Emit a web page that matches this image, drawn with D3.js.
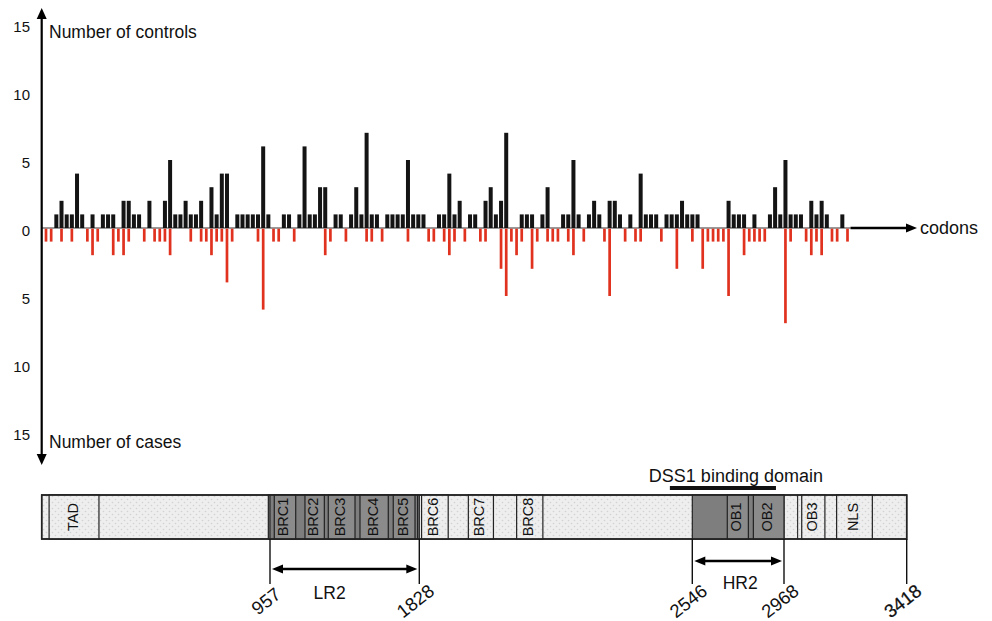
<!DOCTYPE html>
<html><head><meta charset="utf-8">
<script src="https://cdn.jsdelivr.net/npm/d3@7"></script>
<style>body{margin:0;background:#fff;} svg{display:block;font-family:"Liberation Sans",Arial,Helvetica,sans-serif;}</style>
</head><body><svg id="c" width="992" height="621"></svg>
<script>
// ---- data ----
const controlBins = [2,3,4,5,6,7,9,11,12,13,15,16,17,18,20,23,24,25,26,27,28,29,30,32,33,34,35,37,38,39,40,41,42,43,46,47,49,50,51,52,53,54,56,57,59,60,61,62,63,64,66,67,68,69,70,71,72,73,76,77,78,79,80,82,83,85,86,87,88,89,92,93,94,96,97,100,101,102,103,105,106,107,109,110,111,113,115,116,117,118,120,121,122,123,124,125,126,132,133,134,135,137,140,141,142,143,144,145,146,148,149,150,151,154];
const controlCounts = [1,2,1,1,4,1,1,1,1,1, 2,2,1,1,2,2,5,1,1,2, 1,1,2,3,1,4,4,1,1,1, 1,1,6,1,1,1,1,6,1,1, 3,3,1,1,1,3,1,7,1,1, 1,1,1,1,5,1,1,1,1,1, 4,1,2,1,1,2,3,1,2,7, 1,1,1,1,3,1,1,5,1,1, 2,1,2,2,1,1,4,1,1,1, 1,1,1,2,1,1,1,2,1,1, 1,1,1,3,1,5,1,1,1,2, 1,2,1,1];
const caseBins = [0,1,3,5,8,9,10,13,14,15,16,19,21,22,23,24,28,30,31,32,33,34,35,36,41,42,44,45,48,54,55,58,62,63,65,70,74,75,77,78,79,81,84,85,88,89,90,91,92,94,95,97,98,99,101,102,104,108,109,112,114,115,119,122,125,127,128,129,130,131,132,135,136,137,138,139,143,144,147,148,149,150,152,153,155];
const caseCounts = [1,1,1,1,1,2,1,2,1,2, 1,1,1,1,1,2,1,1,1,2, 1,1,4,1,1,6,1,1,1,2, 1,1,1,1,1,1,1,1,1,2, 1,1,1,1,3,5,1,2,1,3, 1,1,1,1,1,2,1,1,5,1, 1,1,1,3,1,3,1,1,1,1, 5,2,1,1,1,1,7,1,1,2, 1,2,1,1,1];
const yTicksUp = [0,5,10,15];
const yTicksDown = [5,10,15];
const axisLabels = ["Number of controls","Number of cases","codons"];

const codonMarks = [957,1828,2546,2968,3418];
const domainNames  = ["TAD","BRC1","BRC2","BRC3","BRC4","BRC5","BRC6","BRC7","BRC8","OB1","OB2","OB3","NLS"];
const domainStarts = [31,982,1161,1297,1482,1676,1834,1957,2084,2707,2827,3033,3161];
const domainEnds   = [240,1107,1274,1453,1647,1803,1904,2023,2153,2804,2968,3118,3292];
const darkRegionStarts = [950,2546];
const darkRegionEnds = [1828,2968];
const separatorCodons = [957,1818,3018];
const regionNames = ["LR2","HR2"];
const regionStarts = [957,2546];
const regionEnds = [1828,2968];
const dss1Name = "DSS1 binding domain";
const dss1Range = [2487,2931];

// ---- drawing ----
const svg = d3.select("#c");
const FONT = '"Liberation Sans",Arial,Helvetica,sans-serif';
const defs = svg.append("defs");
const pat = defs.append("pattern").attr("id","dots").attr("width",6).attr("height",6).attr("patternUnits","userSpaceOnUse");
pat.append("rect").attr("width",6).attr("height",6).attr("fill","#eeeeee");
pat.append("circle").attr("cx",1.5).attr("cy",1.5).attr("r",0.8).attr("fill","#d2d2d2");
pat.append("circle").attr("cx",4.5).attr("cy",4.5).attr("r",0.8).attr("fill","#d2d2d2");

const axisX = 41.7, zeroY = 228, unit = 13.6;
const yUp = d3.scaleLinear().domain([0,15]).range([zeroY, zeroY - unit*15]);
const yDown = d3.scaleLinear().domain([0,15]).range([zeroY, zeroY + unit*15]);
const xBin = d3.scaleLinear().domain([0,155]).range([46,847.5]);

// baseline
svg.append("line").attr("x1",axisX).attr("x2",xBin(155)+3).attr("y1",zeroY).attr("y2",zeroY)
  .attr("stroke","#777").attr("stroke-width",1.4);
svg.append("line").attr("x1",xBin(155)+3).attr("x2",908).attr("y1",zeroY).attr("y2",zeroY)
  .attr("stroke","#000").attr("stroke-width",2.4);
svg.append("path").attr("d",`M906,${zeroY-4.5}L917,${zeroY}L906,${zeroY+4.5}Z`).attr("fill","#000");

// bars
const ctrl = d3.zip(controlBins, controlCounts);
const cases = d3.zip(caseBins, caseCounts);
svg.append("g").selectAll("rect").data(ctrl).join("rect")
  .attr("x", d=>xBin(d[0])-2).attr("width",4)
  .attr("y", d=>yUp(d[1])).attr("height", d=>zeroY - yUp(d[1]))
  .attr("fill","#141414");
svg.append("g").selectAll("rect").data(cases).join("rect")
  .attr("x", d=>xBin(d[0])-1.35).attr("width",2.7)
  .attr("y", zeroY+0.7).attr("height", d=>yDown(d[1]) - zeroY - 0.7)
  .attr("fill","#e0321f");

// vertical axis with arrows
svg.append("line").attr("x1",axisX).attr("x2",axisX).attr("y1",16).attr("y2",458)
  .attr("stroke","#000").attr("stroke-width",2.2);
svg.append("path").attr("d",`M${axisX-5},19L${axisX},8L${axisX+5},19Z`).attr("fill","#000");
svg.append("path").attr("d",`M${axisX-5},454L${axisX},465L${axisX+5},454Z`).attr("fill","#000");

// tick labels
function styleAxis(g){
  g.select(".domain").remove();
  g.selectAll("text").attr("font-family",FONT).attr("font-size",15).attr("fill","#111");
}
svg.append("g").attr("transform","translate(30,2.5)")
  .call(d3.axisLeft(yUp).tickValues(yTicksUp).tickSize(0).tickPadding(0).tickFormat(d3.format("d")))
  .call(styleAxis);
svg.append("g").attr("transform","translate(30,2.5)")
  .call(d3.axisLeft(yDown).tickValues(yTicksDown).tickSize(0).tickPadding(0).tickFormat(d3.format("d")))
  .call(styleAxis);

const txt = (s,x,y,size,anchor)=>svg.append("text").text(s).attr("x",x).attr("y",y)
  .attr("font-size",size).attr("font-family",FONT).attr("fill","#111")
  .attr("dominant-baseline","central").attr("text-anchor",anchor||"start");
txt(axisLabels[0], 49, 32, 17.5);
txt(axisLabels[1], 49, 442, 17.5);
txt(axisLabels[2], 920, 228, 18);

// ---- protein domain diagram ----
const xDom = d3.scaleLinear().domain([0].concat(codonMarks)).range([41.7,270,419.3,692.3,784,906.7]);
const barTop = 495, barBot = 539, barMid = (barTop+barBot)/2;
const dg = svg.append("g");
dg.append("rect").attr("x",xDom(0)).attr("y",barTop).attr("width",xDom(3418)-xDom(0)).attr("height",barBot-barTop)
  .attr("fill","url(#dots)").attr("stroke","#222").attr("stroke-width",1.5);
dg.selectAll("rect.dark").data(d3.zip(darkRegionStarts,darkRegionEnds)).join("rect").attr("class","dark")
  .attr("x",d=>xDom(d[0])).attr("width",d=>xDom(d[1])-xDom(d[0]))
  .attr("y",barTop).attr("height",barBot-barTop).attr("fill","#7e7e7e").attr("stroke","#222").attr("stroke-width",1.2);
dg.selectAll("line.sep").data(separatorCodons).join("line").attr("class","sep")
  .attr("x1",d=>xDom(d)).attr("x2",d=>xDom(d)).attr("y1",barTop).attr("y2",barBot)
  .attr("stroke","#222").attr("stroke-width",1.1);
const doms = domainNames.map((n,i)=>({n, s:domainStarts[i], e:domainEnds[i]}));
const inDark = d => darkRegionStarts.some((s,i)=>d.s>=s && d.e<=darkRegionEnds[i]);
dg.selectAll("rect.dom").data(doms).join("rect").attr("class","dom")
  .attr("x",d=>xDom(d.s)).attr("width",d=>xDom(d.e)-xDom(d.s))
  .attr("y",barTop).attr("height",barBot-barTop)
  .attr("fill",d=>inDark(d)?"#8b8b8b":"url(#dots)").attr("stroke","#222").attr("stroke-width",1.2);
dg.selectAll("text.dom").data(doms).join("text").attr("class","dom")
  .attr("transform",d=>`translate(${(xDom(d.s)+xDom(d.e))/2-1.5},${barMid}) rotate(-90)`)
  .attr("text-anchor","middle").attr("dominant-baseline","central")
  .attr("font-size",14.5).attr("font-family",FONT).attr("fill","#111").text(d=>d.n);
// outer border again on top
dg.append("rect").attr("x",xDom(0)).attr("y",barTop).attr("width",xDom(3418)-xDom(0)).attr("height",barBot-barTop)
  .attr("fill","none").attr("stroke","#222").attr("stroke-width",1.5);

// codon tick lines and labels
dg.selectAll("line.tick").data(codonMarks).join("line").attr("class","tick")
  .attr("x1",d=>xDom(d)).attr("x2",d=>xDom(d)).attr("y1",barBot).attr("y2",584)
  .attr("stroke","#111").attr("stroke-width",1.4);
dg.selectAll("text.tick").data(codonMarks).join("text").attr("class","tick")
  .attr("transform",d=>`translate(${xDom(d)-4},601) rotate(-38)`)
  .attr("text-anchor","middle").attr("dominant-baseline","central")
  .attr("font-size",18.5).attr("font-family",FONT).attr("fill","#111")
  .attr("stroke",(d,i)=>i===codonMarks.length-1?"#111":"none").attr("stroke-width",0.25)
  .text(d=>d);

// region double arrows
const regY = [569,561], regLabelDx = [-15,2], regLabelY = [593,583];
regionNames.forEach((n,i)=>{
  const a = xDom(regionStarts[i])+2, b = xDom(regionEnds[i])-2, y = regY[i];
  dg.append("line").attr("x1",a+8).attr("x2",b-8).attr("y1",y).attr("y2",y).attr("stroke","#000").attr("stroke-width",2.4);
  dg.append("path").attr("d",`M${a},${y}L${a+11},${y-4.5}L${a+11},${y+4.5}Z`).attr("fill","#000");
  dg.append("path").attr("d",`M${b},${y}L${b-11},${y-4.5}L${b-11},${y+4.5}Z`).attr("fill","#000");
  dg.append("text").attr("x",(a+b)/2+regLabelDx[i]).attr("y",regLabelY[i]).attr("text-anchor","middle")
    .attr("dominant-baseline","central").attr("font-size",17.5).attr("font-family",FONT).attr("fill","#111").text(n);
});

// DSS1 binding domain bar
dg.append("rect").attr("x",xDom(dss1Range[0])).attr("width",xDom(dss1Range[1])-xDom(dss1Range[0]))
  .attr("y",486).attr("height",4).attr("fill","#111");
dg.append("text").attr("x",(xDom(dss1Range[0])+xDom(dss1Range[1]))/2+13).attr("y",476)
  .attr("text-anchor","middle").attr("dominant-baseline","central").attr("font-size",18)
  .attr("font-family",FONT).attr("fill","#111").text(dss1Name);
</script></body></html>
